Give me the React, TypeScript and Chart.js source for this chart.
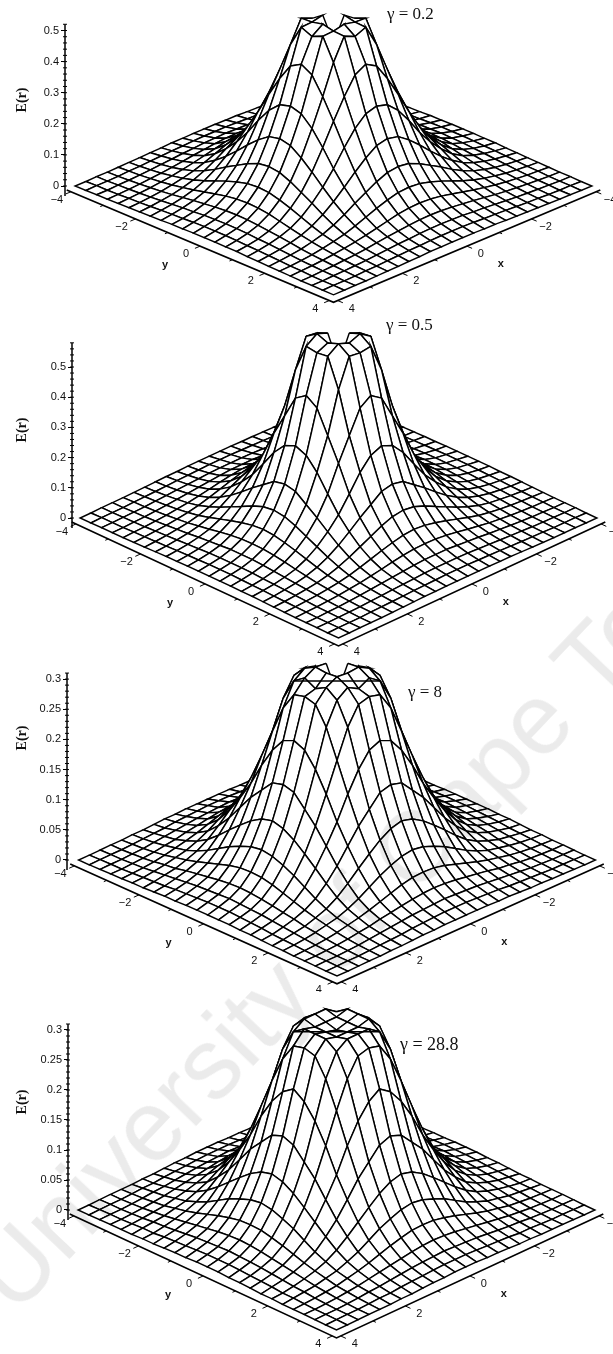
import React, { useEffect, useRef } from "react";
import Chart from "chart.js/auto";

const STEP = 1 / 3;
const GRID_HALF = 12;

// Surface heights: quadrant table, row a holds columns b >= a (surface is symmetric).
const heightsGamma02 = [
  [0.46, 0.535, 0.51, 0.435, 0.315, 0.225, 0.15, 0.098, 0.062, 0.038, 0.024, 0.015, 0.009],
  [0.527, 0.525, 0.415, 0.305, 0.217, 0.145, 0.095, 0.06, 0.037, 0.023, 0.015, 0.009],
  [0.455, 0.36, 0.272, 0.192, 0.13, 0.086, 0.055, 0.034, 0.022, 0.014, 0.008],
  [0.295, 0.225, 0.161, 0.11, 0.074, 0.047, 0.03, 0.019, 0.012, 0.008],
  [0.172, 0.127, 0.09, 0.06, 0.039, 0.026, 0.017, 0.011, 0.006],
  [0.095, 0.068, 0.046, 0.031, 0.021, 0.014, 0.009, 0.005],
  [0.049, 0.034, 0.024, 0.016, 0.011, 0.007, 0.004],
  [0.025, 0.018, 0.012, 0.008, 0.005, 0.003],
  [0.013, 0.009, 0.006, 0.004, 0.002],
  [0.006, 0.004, 0.002, 0.001],
  [0.003, 0.001, 0.001],
  [0.001, 0],
  [0],
];
const heightsGamma05 = [
  [0.507, 0.596, 0.58, 0.455, 0.305, 0.195, 0.125, 0.078, 0.047, 0.028, 0.017, 0.011, 0.006],
  [0.61, 0.585, 0.43, 0.29, 0.187, 0.12, 0.075, 0.046, 0.028, 0.017, 0.011, 0.006],
  [0.49, 0.355, 0.25, 0.16, 0.106, 0.067, 0.042, 0.025, 0.016, 0.01, 0.006],
  [0.28, 0.195, 0.133, 0.088, 0.057, 0.036, 0.022, 0.014, 0.009, 0.005],
  [0.143, 0.103, 0.07, 0.046, 0.029, 0.019, 0.012, 0.008, 0.005],
  [0.075, 0.052, 0.035, 0.023, 0.015, 0.01, 0.006, 0.004],
  [0.037, 0.025, 0.017, 0.012, 0.008, 0.005, 0.003],
  [0.018, 0.013, 0.009, 0.006, 0.004, 0.002],
  [0.009, 0.006, 0.004, 0.003, 0.001],
  [0.004, 0.003, 0.001, 0.001],
  [0.002, 0.001, 0.001],
  [0.001, 0],
  [0],
];
const heightsGamma8 = [
  [0.275, 0.318, 0.3, 0.295, 0.23, 0.165, 0.113, 0.073, 0.044, 0.026, 0.016, 0.01, 0.005],
  [0.32, 0.31, 0.29, 0.222, 0.16, 0.108, 0.07, 0.043, 0.025, 0.015, 0.01, 0.005],
  [0.297, 0.26, 0.198, 0.14, 0.097, 0.063, 0.039, 0.023, 0.014, 0.009, 0.005],
  [0.213, 0.165, 0.12, 0.082, 0.054, 0.033, 0.02, 0.013, 0.008, 0.004],
  [0.127, 0.095, 0.066, 0.043, 0.027, 0.017, 0.011, 0.007, 0.004],
  [0.07, 0.049, 0.032, 0.021, 0.014, 0.009, 0.005, 0.003],
  [0.034, 0.023, 0.016, 0.01, 0.007, 0.004, 0.002],
  [0.016, 0.012, 0.008, 0.005, 0.003, 0.002],
  [0.008, 0.005, 0.003, 0.002, 0.001],
  [0.003, 0.002, 0.001, 0.001],
  [0.001, 0.001, 0.0005],
  [0.0005, 0],
  [0],
];
const heightsGamma288 = [
  [0.3, 0.305, 0.31, 0.295, 0.235, 0.165, 0.11, 0.07, 0.042, 0.025, 0.015, 0.009, 0.005],
  [0.305, 0.31, 0.29, 0.222, 0.158, 0.105, 0.067, 0.041, 0.024, 0.014, 0.009, 0.005],
  [0.297, 0.26, 0.198, 0.138, 0.094, 0.06, 0.037, 0.022, 0.013, 0.008, 0.004],
  [0.215, 0.165, 0.118, 0.079, 0.052, 0.032, 0.019, 0.012, 0.007, 0.004],
  [0.125, 0.092, 0.063, 0.041, 0.026, 0.016, 0.01, 0.006, 0.003],
  [0.067, 0.047, 0.03, 0.02, 0.013, 0.008, 0.005, 0.002],
  [0.033, 0.022, 0.015, 0.01, 0.006, 0.003, 0.002],
  [0.015, 0.011, 0.007, 0.005, 0.003, 0.001],
  [0.007, 0.005, 0.003, 0.002, 0.001],
  [0.003, 0.002, 0.001, 0.001],
  [0.001, 0.001, 0.0005],
  [0.0005, 0],
  [0],
];

const ticksA = [0, 0.1, 0.2, 0.3, 0.4, 0.5];
const ticksB = [0, 0.05, 0.1, 0.15, 0.2, 0.25, 0.3];
const planeTicks = [-4, -2, 0, 2, 4];
const planeMinorTicks = [-3, -1, 1, 3];
// Cells cut off at the top of the view (lower corner, in grid steps).
const cutCellsNotch = [[-3, -3], [-2, -3], [-1, -3], [-3, -2], [-2, -2], [-1, -2], [-3, -1], [-2, -1], [-1, -1]];
const cutCellsNone: number[][] = [];
// Straight line across the crest in the two lower panels (grid steps).
const crestChord = [[2, -2], [-2, 2]];
const noChord: number[][] = [];

const panels = [
  { title: "γ = 0.2", heights: heightsGamma02, ticks: ticksA, minorStep: 0.02, zTop: 0.52, top: 0, h: 318, zero: 186, pxE: 311, m: 13.6, cx: 333.5, axisX: 65, titleX: 387, titleY: 15, titleSize: 17, eY: 100, cut: cutCellsNotch, chord: noChord },
  { title: "γ = 0.5", heights: heightsGamma05, ticks: ticksA, minorStep: 0.02, zTop: 0.58, top: 318, h: 342, zero: 518, pxE: 302, m: 15, cx: 338.5, axisX: 72, titleX: 386, titleY: 326, titleSize: 17, eY: 430, cut: cutCellsNotch, chord: noChord },
  { title: "γ = 8", heights: heightsGamma8, ticks: ticksB, minorStep: 0.01, zTop: 0.31, top: 660, h: 332, zero: 860, pxE: 603, m: 14.5, cx: 337, axisX: 67, titleX: 408, titleY: 693, titleSize: 17, eY: 738, cut: cutCellsNotch, chord: crestChord },
  { title: "γ = 28.8", heights: heightsGamma288, ticks: ticksB, minorStep: 0.01, zTop: 0.31, top: 992, h: 362, zero: 1210, pxE: 600, m: 15, cx: 336.5, axisX: 68, titleX: 400, titleY: 1045, titleSize: 18, eY: 1102, cut: cutCellsNone, chord: crestChord },
];

const K = 32.3;
const BOX = 4.13;
const WIDTH = 613;
const SANS = "'Liberation Sans', Arial, sans-serif";
const SERIF = "'Liberation Serif', 'Times New Roman', serif";

type Panel = (typeof panels)[number];

function heightAt(t: number[][], i: number, j: number) {
  const a = Math.min(Math.abs(i), Math.abs(j));
  const b = Math.max(Math.abs(i), Math.abs(j));
  return t[a][b - a];
}

function buildConfig(p: Panel) {
  const project = (x: number, y: number, e: number) => ({ x: y - x, y: e - ((x + y) * p.m) / p.pxE });
  const planeE = -4 / p.pxE;
  const line = (pts: { x: number; y: number }[], width: number) => ({
    data: pts, borderColor: "#000", borderWidth: width, pointRadius: 0, fill: false, tension: 0, clip: false,
  });
  const node = (a: number, b: number) => project(a * STEP, b * STEP, heightAt(p.heights, a, b));

  const datasets: any[] = [];
  // Base box axes
  datasets.push(line([project(BOX, -BOX, planeE), project(BOX, BOX, planeE), project(-BOX, BOX, planeE)], 1.7));
  for (const t of [...planeTicks, ...planeMinorTicks]) {
    const len = planeTicks.includes(t) ? 0.16 : 0.09;
    datasets.push(line([project(BOX, t, planeE), project(BOX + len, t, planeE)], 1));
    datasets.push(line([project(t, BOX, planeE), project(t, BOX + len, planeE)], 1));
  }
  // Vertical E axis
  const uAxis = (p.axisX - p.cx) / K;
  const minor: { x: number; y: number }[] = [];
  for (let n = 0; n * p.minorStep <= p.zTop; n++) minor.push({ x: uAxis, y: n * p.minorStep });
  datasets.push({ data: minor, showLine: false, pointStyle: "line", pointRadius: 2, borderColor: "#000", pointBorderColor: "#000", pointBorderWidth: 1, clip: false });
  datasets.push(line([{ x: uAxis, y: -10 / p.pxE }, { x: uAxis, y: p.zTop }], 1.5));
  if (p.chord.length) datasets.push(line(p.chord.map(([a, b]) => node(a, b)), 1.5));

  // Surface cells, front first because the last dataset is painted first
  const cells: { key: number; pts: { x: number; y: number }[] }[] = [];
  for (let i = -GRID_HALF; i < GRID_HALF; i++) {
    for (let j = -GRID_HALF; j < GRID_HALF; j++) {
      if (p.cut.some(([a, b]) => a === i && b === j)) continue;
      const corners = [[i, j], [i + 1, j], [i + 1, j + 1], [i, j + 1], [i, j]];
      cells.push({ key: i + j, pts: corners.map(([a, b]) => node(a, b)) });
    }
  }
  cells.sort((c, d) => d.key - c.key);
  for (const c of cells) {
    datasets.push({ data: c.pts, borderColor: "#000", borderWidth: 1.45, backgroundColor: "#fff", fill: "shape", pointRadius: 0, tension: 0, clip: false });
  }

  const textPlugin = {
    id: "panelText",
    afterDraw(chart: any) {
      const { ctx, scales } = chart;
      const px = (pt: { x: number; y: number }) => [scales.x.getPixelForValue(pt.x), scales.y.getPixelForValue(pt.y)];
      ctx.save();
      ctx.fillStyle = "#111";
      ctx.textAlign = "center";
      ctx.textBaseline = "middle";
      ctx.font = `11px ${SANS}`;
      for (const t of planeTicks) {
        const [ax, ay] = px(project(BOX, t, planeE));
        ctx.fillText(String(t).replace("-", "−"), ax - 14, ay + 8);
        const [bx, by] = px(project(t, BOX, planeE));
        ctx.fillText(String(t).replace("-", "−"), bx + 14, by + 8);
      }
      ctx.font = `bold 11px ${SANS}`;
      const [yx, yy] = px(project(BOX, 0, planeE));
      ctx.fillText("y", yx - 35, yy + 19);
      const [xx, xy] = px(project(0, BOX, planeE));
      ctx.fillText("x", xx + 34, xy + 18);
      ctx.font = `bold 14px ${SERIF}`;
      ctx.save();
      ctx.translate(22, p.eY - p.top);
      ctx.rotate(-Math.PI / 2);
      ctx.fillText("E(r)", 0, 0);
      ctx.restore();
      ctx.textAlign = "left";
      ctx.font = `${p.titleSize}px ${SERIF}`;
      ctx.fillText(p.title, p.titleX, p.titleY - p.top);
      ctx.restore();
    },
  };

  return {
    type: "line" as const,
    data: { datasets },
    plugins: [textPlugin],
    options: {
      animation: false as const,
      responsive: false,
      events: [],
      layout: { padding: 0, autoPadding: false },
      plugins: {
        legend: { display: false },
        tooltip: { enabled: false },
        filler: { drawTime: "beforeDatasetDraw" as const },
      },
      scales: {
        x: {
          type: "linear" as const,
          display: false,
          min: (p.axisX - p.cx) / K,
          max: (WIDTH - p.cx) / K,
        },
        y: {
          type: "linear" as const,
          min: -(p.top + p.h - p.zero) / p.pxE,
          max: (p.zero - p.top) / p.pxE,
          afterFit: (s: any) => {
            s.width = p.axisX;
            s.paddingTop = 0;
            s.paddingBottom = 0;
          },
          afterBuildTicks: (s: any) => { s.ticks = p.ticks.map((value) => ({ value })); },
          border: { display: false },
          grid: { display: true, drawOnChartArea: false, drawTicks: true, tickLength: 4, color: "#000", lineWidth: 1 },
          ticks: { color: "#111", padding: 2, font: { size: 11, family: SANS }, autoSkip: false, callback: (v: any) => String(v) },
        },
      },
    },
  };
}

function PanelChart({ p }: { p: Panel }) {
  const ref = useRef<HTMLCanvasElement | null>(null);
  useEffect(() => {
    const chart = new Chart(ref.current as HTMLCanvasElement, buildConfig(p) as any);
    return () => chart.destroy();
  }, [p]);
  return (
    <canvas
      ref={ref}
      width={WIDTH}
      height={p.h}
      style={{ position: "absolute", left: 0, top: p.top, width: WIDTH, height: p.h, filter: "blur(0.4px)" }}
    />
  );
}

export default function App() {
  return (
    <div style={{ position: "absolute", left: 0, top: 0, width: WIDTH, height: 1354, overflow: "hidden", background: "#fff" }}>
      {panels.map((p) => (
        <PanelChart key={p.title} p={p} />
      ))}
      <div
        style={{
          position: "absolute", left: -10, top: 1235, whiteSpace: "pre", transformOrigin: "0 50%",
          transform: "rotate(-46.4deg)", font: `100px ${SANS}`, color: "#ebebeb", mixBlendMode: "multiply", pointerEvents: "none",
        }}
      >
        University of Cape Town
      </div>
    </div>
  );
}
